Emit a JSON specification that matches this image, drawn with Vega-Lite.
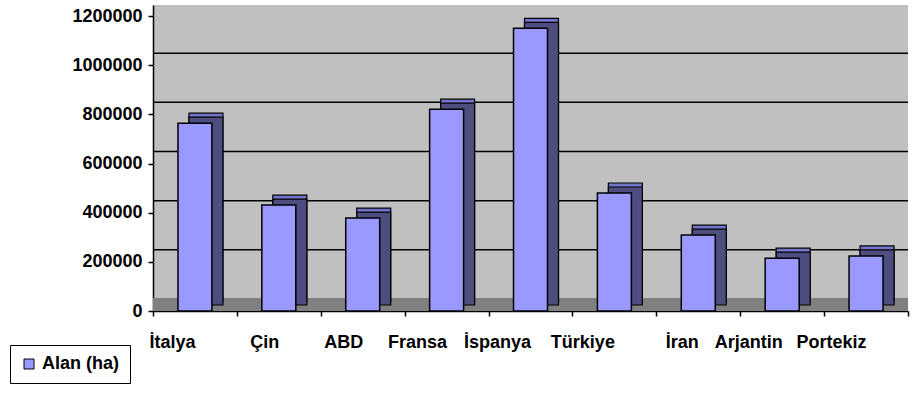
{
  "$schema": "https://vega.github.io/schema/vega-lite/v6.json",
  "width": 755,
  "height": 306,
  "padding": {"left": 9, "top": 5, "right": 5, "bottom": 0},
  "background": "white",
  "config": {
    "view": {"fill": "#c0c0c0", "stroke": null},
    "font": "Liberation Sans",
    "axis": {
      "labelFont": "Liberation Sans",
      "labelFontWeight": "bold",
      "labelFontSize": 18,
      "labelColor": "black",
      "domainColor": "black",
      "tickColor": "black",
      "title": null
    }
  },
  "datasets": {
    "alan": [
      {"ulke": "İtalya", "alan": 764000, "seri": "Alan (ha)"},
      {"ulke": "Çin", "alan": 431000, "seri": "Alan (ha)"},
      {"ulke": "ABD", "alan": 378000, "seri": "Alan (ha)"},
      {"ulke": "Fransa", "alan": 821000, "seri": "Alan (ha)"},
      {"ulke": "İspanya", "alan": 1150000, "seri": "Alan (ha)"},
      {"ulke": "Türkiye", "alan": 480000, "seri": "Alan (ha)"},
      {"ulke": "İran", "alan": 309000, "seri": "Alan (ha)"},
      {"ulke": "Arjantin", "alan": 215000, "seri": "Alan (ha)"},
      {"ulke": "Portekiz", "alan": 224000, "seri": "Alan (ha)"}
    ],
    "grid": [
      {"v": 0}, {"v": 200000}, {"v": 400000}, {"v": 600000},
      {"v": 800000}, {"v": 1000000}, {"v": 1200000}
    ]
  },
  "layer": [
    {
      "data": {"name": "grid"},
      "mark": {"type": "rect", "color": "#808080", "y2Offset": -13},
      "transform": [{"filter": "datum.v == 0"}],
      "encoding": {
        "y": {"field": "v", "type": "quantitative", "scale": {"domain": [0, 1245000], "nice": false}},
        "y2": {"field": "v"}
      }
    },
    {
      "data": {"name": "grid"},
      "mark": {"type": "rule", "color": "black", "strokeWidth": 1.5, "xOffset": 11, "x2Offset": 11, "yOffset": -12, "clip": true},
      "transform": [{"filter": "datum.v > 0 && datum.v < 1200000"}],
      "encoding": {
        "y": {"field": "v", "type": "quantitative"}
      }
    },
    {
      "data": {"name": "grid"},
      "mark": {"type": "rule", "color": "#9a9a9a", "strokeWidth": 1.5, "xOffset": 11, "x2Offset": 11, "yOffset": -12, "clip": true},
      "transform": [{"filter": "datum.v == 1200000"}],
      "encoding": {
        "y": {"field": "v", "type": "quantitative"}
      }
    },
    {
      "data": {"name": "alan"},
      "mark": {"type": "bar", "color": "#7474cc", "stroke": "black", "strokeWidth": 1.2, "width": {"band": 0.405}, "xOffset": 11, "yOffset": -10, "y2Offset": -10},
      "encoding": {
        "x": {"field": "ulke", "type": "nominal", "sort": null},
        "y": {"field": "alan", "type": "quantitative"}
      }
    },
    {
      "data": {"name": "alan"},
      "mark": {"type": "bar", "color": "#4d4d80", "stroke": "black", "strokeWidth": 1.2, "width": {"band": 0.405}, "xOffset": 11, "yOffset": -6, "y2Offset": -10},
      "encoding": {
        "x": {"field": "ulke", "type": "nominal", "sort": null},
        "y": {"field": "alan", "type": "quantitative"}
      }
    },
    {
      "data": {"name": "alan"},
      "mark": {"type": "bar", "stroke": "black", "strokeWidth": 1.5, "width": {"band": 0.405}},
      "encoding": {
        "x": {
          "field": "ulke", "type": "nominal", "sort": null,
          "scale": {"paddingInner": 0, "paddingOuter": 0},
          "axis": {"labelAngle": 0, "tickBand": "extent", "tickSize": 5, "labelPadding": 26, "domainWidth": 1.5, "tickWidth": 1.5}
        },
        "y": {
          "field": "alan", "type": "quantitative",
          "axis": {"values": [0, 200000, 400000, 600000, 800000, 1000000, 1200000], "format": "d", "grid": false, "tickSize": 5, "labelPadding": 6, "domainWidth": 1.5, "tickWidth": 1.5}
        },
        "color": {
          "field": "seri", "type": "nominal",
          "scale": {"range": ["#9999ff"]},
          "legend": {
            "title": null, "orient": "none", "legendX": -143, "legendY": 340,
            "symbolType": "square", "symbolSize": 100, "symbolStrokeColor": "black", "symbolStrokeWidth": 1,
            "labelFont": "Liberation Sans", "labelFontWeight": "bold", "labelFontSize": 18, "labelColor": "black",
            "labelOffset": 4, "strokeColor": "black", "padding": 10, "symbolOffset": 0
          }
        }
      }
    }
  ]
}
